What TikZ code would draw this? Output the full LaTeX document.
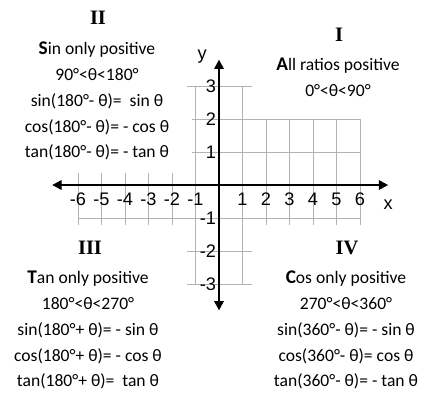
\documentclass[tikz,border=0pt]{standalone}
\usepackage{fontspec}
\setmainfont{Carlito}
\newfontfamily\axisfont{Liberation Sans}
\newfontfamily\romanfont{Liberation Serif}
\usetikzlibrary{arrows.meta}

\newcommand{\capfirst}[1]{{\bfseries\fontsize{16.5}{22}\selectfont #1}}

\begin{document}
\begin{tikzpicture}[x=0.3mm, y=-0.3mm,
  gridline/.style={black!30, line width=0.8pt},
  axis/.style={line width=1.8pt, {Triangle[length=8pt,width=8pt]}-{Triangle[length=8pt,width=8pt]}},
  quadnum/.style={font=\romanfont\bfseries\fontsize{17.5}{17.5}\selectfont},
  ratios/.style={align=center, font=\fontsize{15}{22}\selectfont},
  tick/.style={font=\axisfont\fontsize{15.5}{15.5}\selectfont, inner sep=0pt}]
\useasboundingbox (0,0) rectangle (425,404);

% axes and grid: one square = 23.5 x 33 px, origin at (219,185)
\begin{scope}[shift={(219,185)}, x=7.05mm, y=9.9mm]
  \foreach \i in {2,...,6} \draw[gridline] (\i,0) -- (\i,2);
  \foreach \j in {1,2} \draw[gridline] (-1.15,\j) -- (6,\j);
  \draw[gridline] (-6,-1) -- (6,-1);
  \foreach \i in {-6,...,-2,2,3,...,6} \draw[gridline] (\i,0.35) -- (\i,-1.2);
  \foreach \i in {-1,1} \draw[gridline] (\i,-3) -- (\i,3);
  \foreach \j in {3,-2,-3} \draw[gridline] (-1.35,\j) -- (1.4,\j);
  % axes
  \coordinate (xl) at (-7.1,0);
  \coordinate (xr) at (7.2,0);
  \coordinate (yb) at (0,-3.8);
  \coordinate (yt) at (0,3.8);
  \draw[axis] (xl) -- (xr);
  \draw[axis] (yb) -- (yt);
  \node[tick] (xlabel) at (7.2,-0.6) {x};
  \node[tick] (ylabel) at (-0.72,3.88) {y};
  \foreach \i in {-6,...,-1,1,2,...,6}
    \node[tick] (xt\i) at (\i,-0.42) {\i};
  \foreach \j in {-3,...,-1,1,2,3}
    \node[tick, anchor=east] (yt\j) at (-0.12,\j) {\j};
\end{scope}

% quadrant II
\node[quadnum] (q2) at (98,18) {II};
\node[ratios, anchor=north] (t2) at (97,38)
  {\capfirst{S}in only positive\\ 90°<θ<180°\\ sin(180°- θ)=\ \ sin θ\\
   cos(180°- θ)= - cos θ\\ tan(180°- θ)= - tan θ};
% quadrant I
\node[quadnum] (q1) at (339,35) {I};
\node[ratios, anchor=north] (t1) at (338,54)
  {\capfirst{A}ll ratios positive\\ 0°<θ<90°};
% quadrant III
\node[quadnum] (q3) at (90,248) {III};
\node[ratios, anchor=north] (t3) at (88,267)
  {\capfirst{T}an only positive\\ 180°<θ<270°\\ sin(180°+ θ)= - sin θ\\
   cos(180°+ θ)= - cos θ\\ tan(180°+ θ)=\ \ tan θ};
% quadrant IV
\node[quadnum] (q4) at (347,248) {IV};
\node[ratios, anchor=north] (t4) at (346,267)
  {\capfirst{C}os only positive\\ 270°<θ<360°\\ sin(360°- θ)= - sin θ\\
   cos(360°- θ)= cos θ\\ tan(360°- θ)= - tan θ};
\end{tikzpicture}
\end{document}
